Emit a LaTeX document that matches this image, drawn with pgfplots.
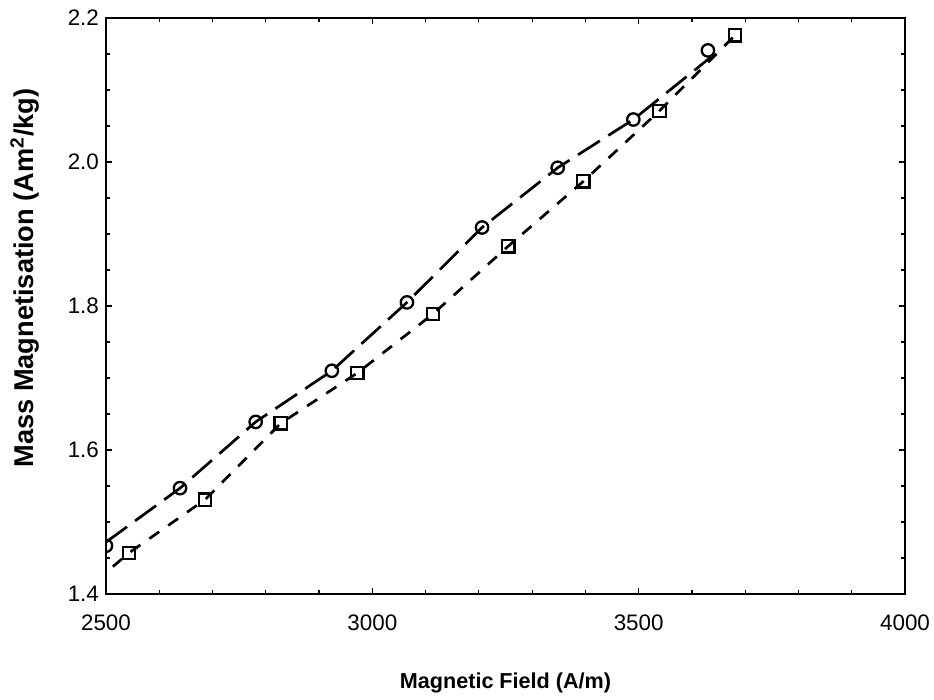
\documentclass[border=0pt]{standalone}
\usepackage{pgfplots}
\pgfplotsset{compat=1.18}
\usepackage{fontspec}
\setmainfont{Liberation Sans}
\begin{document}
\begin{tikzpicture}
\begin{axis}[
  scale only axis, width=399.5pt, height=288pt,
  xmin=2500, xmax=4000, ymin=1.4, ymax=2.2,
  xtick={2500,3000,3500,4000},
  ytick={1.4,1.6,1.8,2.0,2.2},
  minor x tick num=4, minor y tick num=3,
  tick align=inside, major tick length=3pt, minor tick length=2pt,
  axis line style={line width=1.1pt},
  every tick/.style={black, line width=0.6pt},
  /pgf/number format/assume math mode=true,
  x tick label style={font=\fontsize{11.2}{13}\selectfont, yshift=-7pt, /pgf/number format/1000 sep={}},
  y tick label style={font=\fontsize{11.2}{13}\selectfont, /pgf/number format/.cd, fixed, fixed zerofill, precision=1},
  xlabel={Magnetic Field (A/m)},
  xlabel style={font=\fontsize{10.8}{12}\selectfont\bfseries, at={(axis description cs:0.5,0)}, anchor=center, yshift=-44.5pt},
  ylabel={Mass Magnetisation (Am\textsuperscript{2}/kg)},
  ylabel style={font=\fontsize{13.6}{15}\selectfont\bfseries, at={(axis description cs:0,0.5)}, anchor=center, xshift=14pt, yshift=40.5pt},
  clip marker paths=true,
]
% circle series: connecting line
\addplot[black, line width=1.35pt, dash pattern=on 13pt off 5pt] coordinates {
(2500,1.472) (2639,1.547) (2781,1.639) (2924,1.710) (3065,1.805) (3206,1.909) (3348,1.992) (3490,2.059) (3636,2.146)};
% square series: connecting line
\addplot[black, line width=1.35pt, dash pattern=on 6pt off 5.5pt] coordinates {
(2513,1.438) (2543,1.457) (2686,1.531) (2828,1.637) (2972,1.707) (3114,1.789) (3255,1.883) (3396,1.973) (3539,2.071) (3681,2.176)};
% circle markers
\addplot[only marks, mark=o, mark size=3.1pt, mark options={black, line width=1.15pt, solid, fill=none}] coordinates {
(2500,1.467) (2639,1.547) (2781,1.639) (2924,1.710) (3065,1.805) (3206,1.909) (3348,1.992) (3490,2.059) (3630,2.155)};
% square markers
\addplot[only marks, mark=square, mark size=3.1pt, mark options={black, line width=1.15pt, solid, fill=none}] coordinates {
(2543,1.457) (2686,1.531) (2828,1.637) (2972,1.707) (3114,1.789) (3255,1.883) (3396,1.973) (3539,2.071) (3681,2.176)};
\end{axis}
\path (current axis.south west) ++(-53pt,-53pt) coordinate (bl);
\path (current axis.north east) ++(14.5pt,9pt) coordinate (tr);
\pgfresetboundingbox
\path[use as bounding box] (bl) rectangle (tr);
\end{tikzpicture}
\end{document}
